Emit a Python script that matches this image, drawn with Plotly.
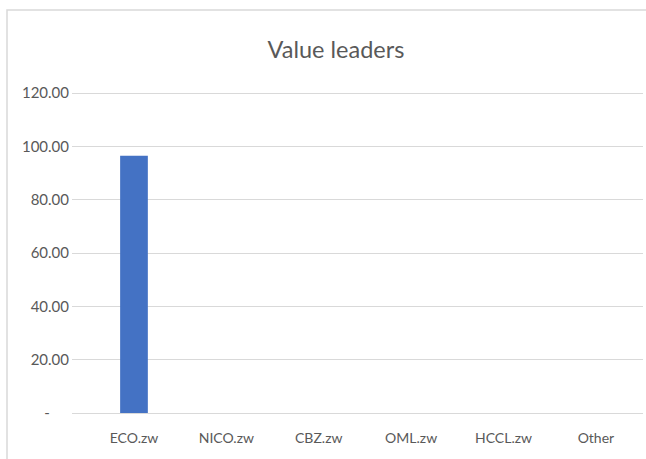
import plotly.graph_objects as go

categories = ["ECO.zw", "NICO.zw", "CBZ.zw", "OML.zw", "HCCL.zw", "Other"]
values = [96.5, 0, 0, 0, 0, 0]
tick_vals = [0, 20, 40, 60, 80, 100, 120]
tick_text = ["-" + "\u00a0" * 5, "20.00", "40.00", "60.00", "80.00", "100.00", "120.00"]

W, H = 646, 459
pad = 3
sx0, sx1, sy0, sy1 = 72, 643, 93 - pad, 413 + pad
L = sx0
R = W - sx1
T = sy0
B = H - sy1
pw = W - L - R
ph = H - T - B
ypad = 120 * pad / 320.0

fig = go.Figure(go.Bar(x=list(range(len(categories))), y=values,
                       marker=dict(color="#4472C4", line=dict(width=0)),
                       width=0.30))

fig.update_layout(
    width=W, height=H,
    margin=dict(l=L, r=R, t=T, b=B),
    paper_bgcolor="white", plot_bgcolor="white",
    font=dict(family="Lato, Liberation Sans Narrow, sans-serif", color="#595959", size=14),
    title=dict(text="Value leaders", x=336 / W, xanchor="center", y=1 - 50 / H,
               yanchor="middle", font=dict(size=23.5, color="#595959")),
    showlegend=False,
    xaxis=dict(tickmode="array", tickvals=list(range(len(categories))), ticktext=categories,
               range=[-0.671, 5.51], showgrid=False, zeroline=False, showline=False,
               ticks="", ticklabelstandoff=15 - pad, fixedrange=True),
    yaxis=dict(tickmode="array", tickvals=tick_vals, ticktext=tick_text,
               range=[-ypad, 120 + ypad], tickfont=dict(size=15),
               showgrid=True, gridcolor="#d9d9d9", gridwidth=1, zeroline=False,
               showline=False, ticks="", ticklabelstandoff=2, fixedrange=True),
    shapes=[dict(type="rect", xref="paper", yref="paper",
                 x0=(7 - L) / pw, x1=(W + 5 - L) / pw,
                 y0=((H - B) - (H + 5)) / ph, y1=((H - B) - 10) / ph,
                 line=dict(color="#d9d9d9", width=1.5), fillcolor="rgba(0,0,0,0)", layer="below")],
)

fig.write_html("out.html", config={"displayModeBar": False},
               post_script=["document.body.style.margin='0px';document.body.style.overflow='hidden';"])
